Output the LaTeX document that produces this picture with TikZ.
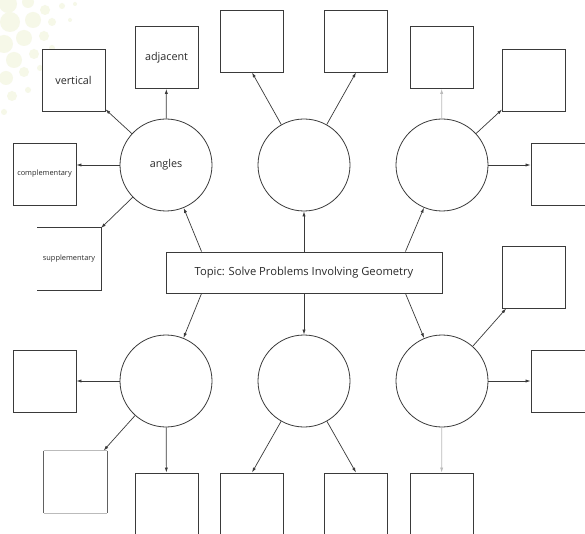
\documentclass[tikz,border=0pt]{standalone}
\usepackage{fontspec}
\setmainfont{Open Sans}
\usetikzlibrary{arrows.meta}
\definecolor{ln}{HTML}{3A3A3A}
\definecolor{tx}{HTML}{2A2A2A}
\definecolor{faint}{HTML}{BBBBBB}
\definecolor{dot}{HTML}{F6F8E8}
\begin{document}
\begin{tikzpicture}[x=1pt,y=-1pt,
  every node/.style={text=tx},
  circ/.style={circle,draw=ln,line width=0.8pt,minimum size=92pt,inner sep=0pt,fill=white,font=\fontsize{10.8}{12}\selectfont},
  sq/.style={rectangle,draw=ln,line width=0.9pt,minimum width=63pt,minimum height=62pt,inner sep=0pt,fill=white,font=\fontsize{10.8}{12}\selectfont},
  sqs/.style={sq,font=\fontsize{7.4}{8}\selectfont},
  topicbox/.style={rectangle,draw=ln,line width=0.9pt,minimum width=276pt,minimum height=41pt,inner sep=0pt,fill=white,font=\fontsize{11.2}{13}\selectfont},
  arr/.style={draw=ln,line width=0.7pt,-{Latex[length=5pt,width=3.2pt]}},
  farr/.style={arr,draw=faint}]
\useasboundingbox (0,0) rectangle (585,534);
\fill[white] (0,0) rectangle (585,534);
% background dots
\foreach \x/\y/\r in {8/4/9,28/2/6,45/10/5,62/6/3,10/22/10,33/20/8,52/22/4,4/44/9,24/38/8,44/36/5,14/60/8,34/54/5,52/48/3,6/78/7,24/72/5,40/68/3,12/96/5,28/90/3,4/112/3,75/4/2,70/20/2}
  \fill[dot] (\x,\y) circle (\r);
% circles
\node[circ] (c1) at (166,165) {angles};
\node[circ] (c2) at (304,165) {};
\node[circ] (c3) at (442,165) {};
\node[circ] (c4) at (166,381) {};
\node[circ] (c5) at (304,381) {};
\node[circ] (c6) at (442,381) {};
% topic
\node[topicbox] (topic) at (304,272.5) {Topic: Solve Problems Involving Geometry};
% boxes
\node[sq] (vert) at (73.5,80) {vertical};
\node[sq] (adj) at (166.5,57.5) {adjacent};
\node[sqs] (comp) at (44.5,174) {complementary};
\node[sqs,draw=none] (supp) at (69,259) {supplementary};
\draw[ln,line width=0.9pt] (supp.north west) -- (supp.north east) -- (supp.south east) -- (supp.south west);
\node[sq] (t1) at (252,41) {};
\node[sq] (t2) at (356,41) {};
\node[sq] (t3) at (441.5,57.5) {};
\node[sq] (t4) at (534,80) {};
\node[sq] (r1) at (562.5,174) {};
\node[sq] (r2) at (534,277) {};
\node[sq] (r3) at (562.5,381) {};
\node[sq] (l1) at (44.5,381) {};
\node[sq,draw=none] (l2) at (75.5,482) {};
\draw[faint,line width=0.6pt] (l2.north west) -- (l2.north east) (l2.south west) -- (l2.south east);
\draw[ln!80,line width=0.9pt] (l2.north west) -- (l2.south west) (l2.north east) -- (l2.south east);
\node[sq] (b1) at (166.5,504) {};
\node[sq] (b2) at (252,504) {};
\node[sq] (b3) at (356,504) {};
\node[sq] (b4) at (441.5,504) {};
% arrows from topic
\draw[arr] ([xshift=36pt]topic.north west) -- (c1);
\draw[arr] (topic.north) -- (c2);
\draw[arr] ([xshift=-37pt]topic.north east) -- (c3);
\draw[arr] ([xshift=36pt]topic.south west) -- (c4);
\draw[arr] (topic.south) -- (c5);
\draw[arr] ([xshift=-37pt]topic.south east) -- (c6);
% angles
\draw[arr] (c1) -- (vert);
\draw[arr] (c1) -- (adj);
\draw[arr] (c1.west) -- (c1.west -| comp.east);
\draw[arr] (c1) -- (supp);
% c2
\draw[arr] (c2) -- (t1.south);
\draw[arr] (c2) -- (t2.south);
% c3
\draw[farr] (c3) -- (t3);
\draw[arr] (c3) -- (t4);
\draw[arr] (c3.east) -- (c3.east -| r1.west);
% c4
\draw[arr] (c4) -- (l1);
\draw[arr] (c4) -- (l2);
\draw[arr] (c4) -- (b1);
% c5
\draw[arr] (c5) -- (b2.north);
\draw[arr] (c5) -- (b3.north);
% c6
\draw[arr] (c6) -- (r2);
\draw[arr] (c6) -- (r3);
\draw[farr] (c6) -- (b4);
\end{tikzpicture}
\end{document}
